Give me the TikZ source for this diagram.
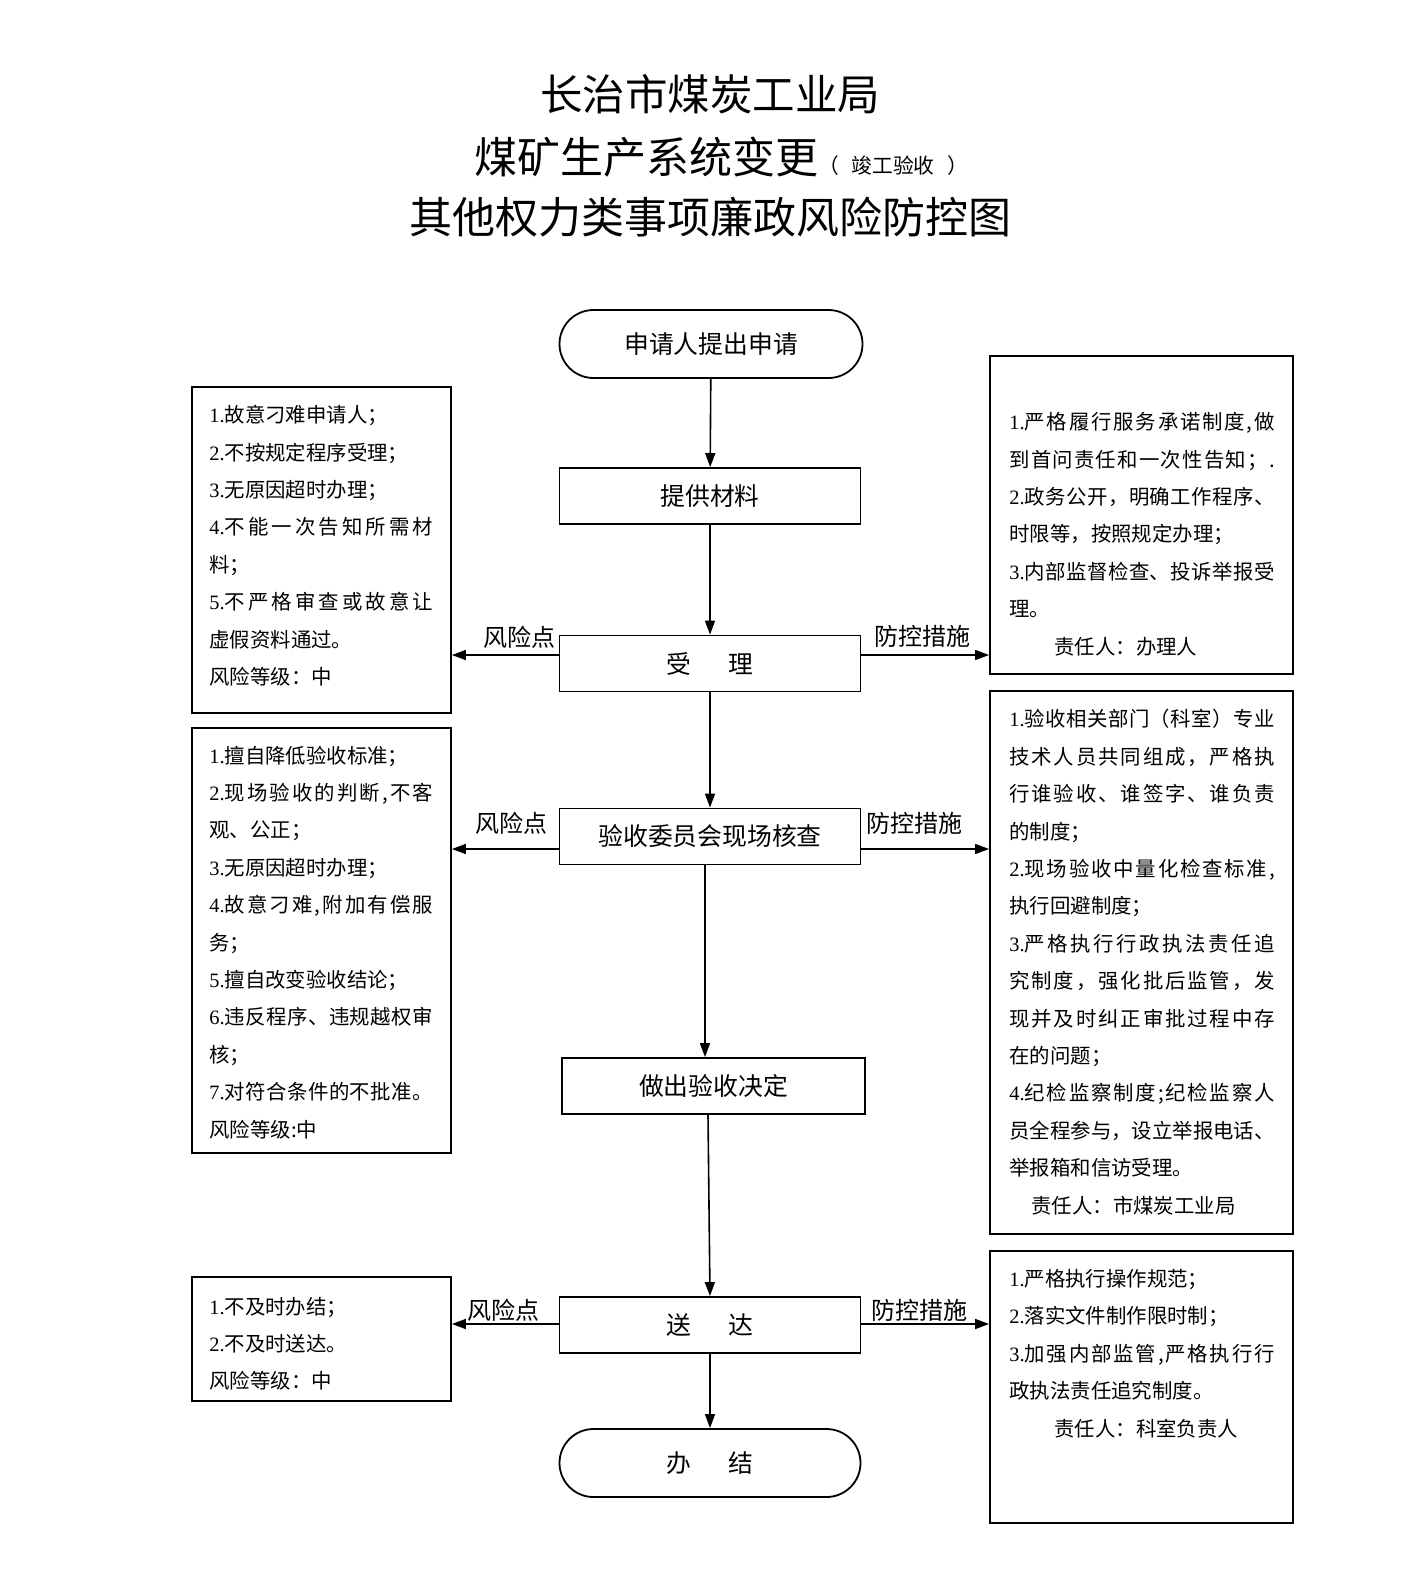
\documentclass[tikz,border=0pt]{standalone}
\usepackage{fontspec}
\setmainfont{Noto Sans CJK SC}
\newfontfamily\latf{Liberation Serif}
\usetikzlibrary{arrows.meta,calc,fit}
\newcommand\nlab[1]{{\latf #1}}
\def\jspaux#1{\ifx#1\relax\else\hskip 0pt plus 1fil\relax#1\expandafter\jspaux\fi}
\def\jspfirst#1{#1\jspaux}
\newcommand\jlft[2]{\makebox[111.8pt][s]{#1\jspfirst#2\relax}}
\newcommand\jrgt[2]{\makebox[132.7pt][s]{#1\jspfirst#2\relax}}
\begin{document}
\begin{tikzpicture}[x=0.5pt,y=-0.5pt,
  arr/.style={-{Triangle[length=7pt,width=5pt]},line width=0.8pt},
  flowbox/.style={draw,line width=0.9pt,minimum width=150.5pt,minimum height=28pt,inner sep=0pt,font=\fontsize{12.4}{15}\selectfont},
  termbox/.style={flowbox,rounded corners=17pt,minimum height=34pt,minimum width=151.5pt},
  sidebox/.style={draw,line width=0.9pt,inner sep=0pt},
  sidetxt/.style={inner sep=0pt,align=left,anchor=north west,font=\fontsize{10.2}{18.7}\selectfont},
  lab/.style={inner sep=0pt,font=\fontsize{12}{14}\selectfont}
]
\useasboundingbox[fill=white] (0,0) rectangle (1420,1585);

% titles
\node[inner sep=0pt,font=\fontsize{21.25}{24}\selectfont] (T1) at (710,94) {长治市煤炭工业局};
\node[inner sep=0pt] (T2) at (721,157) {{\fontsize{21.5}{24}\selectfont 煤矿生产系统变更}{\fontsize{10.4}{12}\selectfont （\hspace{0.6em}竣工验收\hspace{0.6em}）}};
\node[inner sep=0pt,font=\fontsize{21.5}{24}\selectfont] (T3) at (710,217.5) {其他权力类事项廉政风险防控图};

% main flow
\node[termbox] (S) at (711,344) {申请人提出申请};
\node[flowbox] (P) at (710,496) {提供材料};
\node[flowbox] (R) at (710,663.5) {受\hspace{1.5em}理};
\node[flowbox] (Y) at (710,836.5) {验收委员会现场核查};
\node[flowbox,minimum width=151.5pt] (D) at (713.5,1086) {做出验收决定};
\node[flowbox] (Z) at (710,1325) {送\hspace{1.5em}达};
\node[termbox,minimum width=150.5pt] (E) at (710,1463) {办\hspace{1.5em}结};

% side boxes
\node[sidebox,fit={(192,387)(451,713)}] (L1) {};
\node[sidebox,fit={(990,356)(1293,674)}] (R1) {};
\node[sidebox,fit={(192,728)(451,1153)}] (L2) {};
\node[sidebox,fit={(990,691)(1293,1234)}] (R2) {};
\node[sidebox,fit={(192,1277)(451,1401)}] (L3) {};
\node[sidebox,fit={(990,1251)(1293,1523)}] (R3) {};

\node[sidetxt] (L1t) at (209,405) {\nlab{1.}故意刁难申请人；\\
\nlab{2.}不按规定程序受理；\\
\nlab{3.}无原因超时办理；\\
\jlft{\nlab{4.}}{不能一次告知所需材}\\
料；\\
\jlft{\nlab{5.}}{不严格审查或故意让}\\
虚假资料通过。\\
风险等级：中};

\node[sidetxt] (R1t) at (1009,412) {\jrgt{\nlab{1.}}{严格履行服务承诺制度,做}\\
\jrgt{}{到首问责任和一次性告知；.}\\
\jrgt{\nlab{2.}}{政务公开，明确工作程序、}\\
时限等，按照规定办理；\\
\jrgt{\nlab{3.}}{内部监督检查、投诉举报受}\\
理。\\
\hspace*{22.5pt}责任人：办理人};

\node[sidetxt] (L2t) at (209,745.5) {\nlab{1.}擅自降低验收标准；\\
\jlft{\nlab{2.}}{现场验收的判断,不客}\\
观、公正；\\
\nlab{3.}无原因超时办理；\\
\jlft{\nlab{4.}}{故意刁难,附加有偿服}\\
务；\\
\nlab{5.}擅自改变验收结论；\\
\jlft{\nlab{6.}}{违反程序、违规越权审}\\
核；\\
\jlft{\nlab{7.}}{对符合条件的不批准。}\\
风险等级:中};

\node[sidetxt] (R2t) at (1009,709) {\jrgt{\nlab{1.}}{验收相关部门（科室）专业}\\
\jrgt{}{技术人员共同组成，严格执}\\
\jrgt{}{行谁验收、谁签字、谁负责}\\
的制度；\\
\jrgt{\nlab{2.}}{现场验收中量化检查标准,}\\
执行回避制度；\\
\jrgt{\nlab{3.}}{严格执行行政执法责任追}\\
\jrgt{}{究制度，强化批后监管，发}\\
\jrgt{}{现并及时纠正审批过程中存}\\
在的问题；\\
\jrgt{\nlab{4.}}{纪检监察制度;纪检监察人}\\
\jrgt{}{员全程参与，设立举报电话、}\\
举报箱和信访受理。\\
\hspace*{11pt}责任人：市煤炭工业局};

\node[sidetxt] (L3t) at (209,1296.5) {\nlab{1.}不及时办结；\\
\nlab{2.}不及时送达。\\
风险等级：中};

\node[sidetxt] (R3t) at (1009,1269) {\nlab{1.}严格执行操作规范；\\
\nlab{2.}落实文件制作限时制；\\
\jrgt{\nlab{3.}}{加强内部监管,严格执行行}\\
政执法责任追究制度。\\
\hspace*{22.5pt}责任人：科室负责人};

% vertical arrows
\draw[arr] (S) -- (P);
\draw[arr] (P) -- (R);
\draw[arr] (R) -- (Y);
\draw[arr] ($(Y.south)+(-5,0)$) -- ($(D.north)+(-8.5,0)$);
\draw[arr] ($(D.south)+(-5.5,0)$) -- (Z.north);
\draw[arr] (Z) -- (E);

% horizontal arrows
\coordinate (r1) at (0,655);
\coordinate (r2) at (0,849);
\coordinate (r3) at (0,1324);
\draw[arr] (R.west |- r1) -- (L1.east |- r1);
\draw[arr] (R.east |- r1) -- (R1.west |- r1);
\draw[arr] (Y.west |- r2) -- (L2.east |- r2);
\draw[arr] (Y.east |- r2) -- (R2.west |- r2);
\draw[arr] (Z.west |- r3) -- (L3.east |- r3);
\draw[arr] (Z.east |- r3) -- (R3.west |- r3);

% labels
\node[lab] (k1) at (519,637) {风险点};
\node[lab] (f1) at (922,636) {防控措施};
\node[lab] (k2) at (511,823) {风险点};
\node[lab] (f2) at (914,823) {防控措施};
\node[lab] (k3) at (503,1310) {风险点};
\node[lab] (f3) at (919,1310) {防控措施};
\end{tikzpicture}
\end{document}
